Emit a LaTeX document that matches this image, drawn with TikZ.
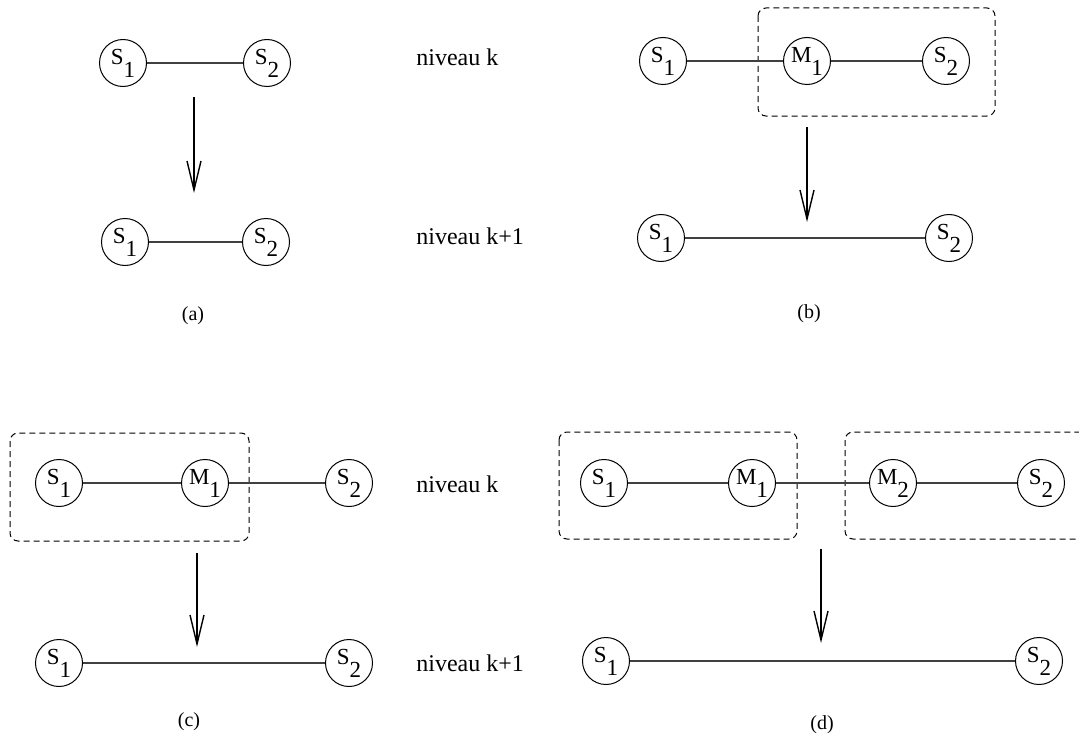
\documentclass[tikz,border=0pt]{standalone}
\usepackage{fontspec}
\setmainfont{Liberation Serif}
\usepackage{tikz}
\usetikzlibrary{arrows.meta}
\newcommand{\vsub}[2]{#1\raisebox{-6.5pt}{#2}}

\begin{document}
\begin{tikzpicture}[x=0.5pt, y=-0.5pt,
  every node/.style={font=\fontsize{11.5}{13}\selectfont},
  vtx/.style={circle, draw=black, line width=0.5pt, minimum size=23.5pt, inner sep=0pt},
  edge/.style={draw=black!75, line width=0.55pt},
  group/.style={draw=black, line width=0.5pt, dash pattern=on 3pt off 2pt, rounded corners=4pt},
  flow/.style={-{Straight Barb[length=14.5pt, width=7pt]}, line width=0.7pt},
  level/.style={anchor=west, inner xsep=0pt, font=\fontsize{12}{14}\selectfont},
  caption/.style={font=\fontsize{10}{12}\selectfont}
]
\clip (0,0) rectangle (1079,738);
% (a)
\node[vtx] (aS1) at (123,63)  {\vsub{S}{1}};
\node[vtx] (aS2) at (267,63)  {\vsub{S}{2}};
\node[vtx] (aT1) at (125,242) {\vsub{S}{1}};
\node[vtx] (aT2) at (266,242) {\vsub{S}{2}};
\draw[edge] (aS1) -- (aS2);
\draw[edge] (aT1) -- (aT2);
\coordinate (aFrom) at (194,97);
\coordinate (aTo)   at (194,193);
\draw[flow] (aFrom) -- (aTo);
\node[caption] (aCap) at (193,316) {(a)};
\node[level] (lvTopK)  at (416,57)  {niveau k};
\node[level] (lvTopK1) at (416,236) {niveau k+1};
% (b)
\draw[group] (758,8) rectangle (995,116);
\node[vtx] (bS1) at (663,61)  {\vsub{S}{1}};
\node[vtx] (bM1) at (807,61)  {\vsub{M}{1}};
\node[vtx] (bS2) at (946,61)  {\vsub{S}{2}};
\node[vtx] (bT1) at (661,238) {\vsub{S}{1}};
\node[vtx] (bT2) at (949,238) {\vsub{S}{2}};
\draw[edge] (bS1) -- (bM1);
\draw[edge] (bM1) -- (bS2);
\draw[edge] (bT1) -- (bT2);
\coordinate (bFrom) at (807,127);
\coordinate (bTo)   at (807,222);
\draw[flow] (bFrom) -- (bTo);
\node[caption] (bCap) at (809,314) {(b)};
% (c)
\draw[group] (10,433) rectangle (249,541);
\node[vtx] (cS1) at (59,483)  {\vsub{S}{1}};
\node[vtx] (cM1) at (205,483) {\vsub{M}{1}};
\node[vtx] (cS2) at (349,483) {\vsub{S}{2}};
\node[vtx] (cT1) at (59,663)  {\vsub{S}{1}};
\node[vtx] (cT2) at (349,663) {\vsub{S}{2}};
\draw[edge] (cS1) -- (cM1);
\draw[edge] (cM1) -- (cS2);
\draw[edge] (cT1) -- (cT2);
\coordinate (cFrom) at (197,553);
\coordinate (cTo)   at (197,647);
\draw[flow] (cFrom) -- (cTo);
\node[caption] (cCap) at (189,722) {(c)};
\node[level] (lvBotK)  at (416,484) {niveau k};
\node[level] (lvBotK1) at (416,663) {niveau k+1};
% (d)
\draw[group] (559,432) rectangle (797,539);
\draw[group] (845,432) rectangle (1095,539);
\node[vtx] (dS1) at (604,483)  {\vsub{S}{1}};
\node[vtx] (dM1) at (752,483)  {\vsub{M}{1}};
\node[vtx] (dM2) at (893,483)  {\vsub{M}{2}};
\node[vtx] (dS2) at (1041,483) {\vsub{S}{2}};
\node[vtx] (dT1) at (606,661)  {\vsub{S}{1}};
\node[vtx] (dT2) at (1039,661) {\vsub{S}{2}};
\draw[edge] (dS1) -- (dM1);
\draw[edge] (dM1) -- (dM2);
\draw[edge] (dM2) -- (dS2);
\draw[edge] (dT1) -- (dT2);
\coordinate (dFrom) at (821,549);
\coordinate (dTo)   at (821,643);
\draw[flow] (dFrom) -- (dTo);
\node[caption] (dCap) at (822,725) {(d)};
\end{tikzpicture}
\end{document}
